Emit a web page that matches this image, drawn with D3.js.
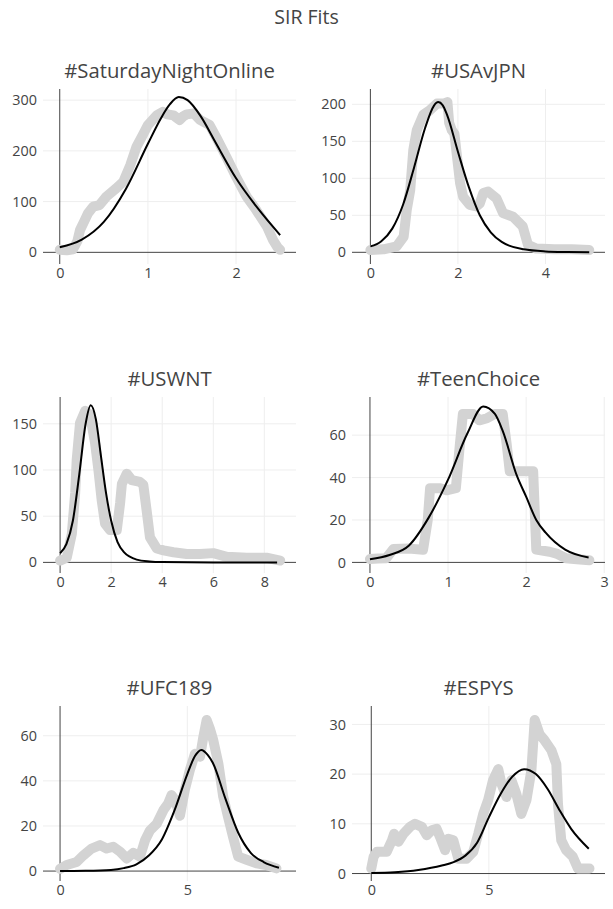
<!DOCTYPE html>
<html><head><meta charset="utf-8">
<script src="https://cdn.jsdelivr.net/npm/d3@7"></script>
<style>
body{margin:0;background:#fff;}
text{font-family:"Open Sans",sans-serif;}
</style>
</head><body>
<svg id="chart" width="613" height="909"></svg>
<script>
// ---------- data ----------
const chartTitle = "SIR Fits";
const panelTitles = ["#SaturdayNightOnline", "#USAvJPN", "#USWNT", "#TeenChoice", "#UFC189", "#ESPYS"];

// #SaturdayNightOnline
const snlObsX = [0, 0.08, 0.15, 0.2, 0.23, 0.28, 0.32, 0.38, 0.45, 0.53, 0.64, 0.72, 0.8, 0.87, 0.95, 1.0, 1.1, 1.17, 1.22, 1.29, 1.36, 1.4, 1.44, 1.52, 1.59, 1.7, 1.78, 1.89, 2.0, 2.12, 2.23, 2.35, 2.42, 2.47, 2.5];
const snlObsY = [5, 4, 6, 22, 44, 62, 77, 90, 93, 110, 126, 139, 172, 208, 234, 251, 270, 277, 272, 270, 261, 268, 272, 274, 261, 251, 225, 188, 149, 110, 83, 51, 24, 10, 5];
const snlFitX = [0, 0.25, 0.5, 0.75, 1.0, 1.15, 1.25, 1.35, 1.45, 1.6, 1.75, 2.0, 2.25, 2.5];
const snlFitY = [10, 25, 60, 125, 214, 265, 292, 306, 300, 268, 222, 146, 86, 34];

// #USAvJPN
const jpnObsX = [0, 0.3, 0.6, 0.76, 0.83, 0.91, 0.98, 1.06, 1.21, 1.36, 1.52, 1.67, 1.76, 1.8, 1.86, 1.92, 1.97, 2.05, 2.12, 2.27, 2.42, 2.5, 2.58, 2.69, 2.88, 3.03, 3.26, 3.48, 3.6, 3.79, 4.2, 4.6, 5.0];
const jpnObsY = [3, 4, 8, 21, 57, 84, 138, 165, 186, 192, 201, 201, 203, 175, 165, 160, 134, 93, 75, 64, 62, 66, 80, 82, 73, 53, 48, 35, 10, 5, 4, 4, 3];
const jpnFitX = [0, 0.25, 0.5, 0.75, 1.0, 1.25, 1.45, 1.55, 1.65, 1.75, 2.0, 2.25, 2.5, 2.75, 3.0, 3.5, 4.0, 4.5, 5.0];
const jpnFitY = [8, 15, 32, 65, 115, 168, 198, 203, 199, 186, 136, 88, 50, 27, 14, 4, 1.2, 0.4, 0.1];

// #USWNT
const wntObsX = [0, 0.26, 0.46, 0.59, 0.65, 0.78, 0.98, 1.17, 1.37, 1.5, 1.63, 1.76, 1.96, 2.22, 2.35, 2.42, 2.61, 2.81, 3.13, 3.26, 3.39, 3.52, 3.79, 4.05, 4.44, 4.96, 5.48, 6.0, 6.53, 7.31, 8.09, 8.62];
const wntObsY = [2, 5, 31, 75, 111, 151, 164, 160, 129, 100, 67, 42, 35, 35, 64, 85, 96, 89, 87, 84, 56, 27, 15, 13, 11, 9, 9, 10, 6, 5, 5, 2];
const wntFitX = [0, 0.25, 0.5, 0.75, 1.0, 1.2, 1.4, 1.6, 1.8, 2.0, 2.25, 2.5, 3.0, 3.5, 4.0, 5.0, 6.0, 7.0, 8.5];
const wntFitY = [10, 20, 45, 95, 150, 170, 155, 115, 75, 45, 22, 11, 3, 1, 0.3, 0.05, 0, 0, 0];

// #TeenChoice
const tcObsX = [0, 0.1, 0.21, 0.3, 0.5, 0.68, 0.74, 0.77, 0.9, 0.98, 1.1, 1.15, 1.19, 1.32, 1.4, 1.5, 1.6, 1.7, 1.75, 1.79, 1.95, 2.09, 2.13, 2.3, 2.4, 2.51, 2.65, 2.81];
const tcObsY = [1.6, 1.8, 2, 6.3, 6.5, 6, 20, 35, 35, 34, 35, 55, 70, 70, 67, 68, 70, 70, 56, 43, 43, 43, 6, 5, 4, 2, 1.5, 1];
const tcFitX = [0, 0.25, 0.5, 0.75, 1.0, 1.25, 1.45, 1.6, 1.7, 1.88, 2.0, 2.13, 2.25, 2.5, 2.8];
const tcFitY = [1.5, 3.5, 8, 21, 39, 61, 73.5, 70, 62, 41, 31, 20, 14, 6, 2.3];

// #UFC189
const ufcObsX = [0, 0.26, 0.65, 0.92, 1.24, 1.57, 1.83, 2.09, 2.36, 2.62, 2.88, 3.14, 3.34, 3.53, 3.8, 4.06, 4.25, 4.38, 4.52, 4.71, 4.9, 5.1, 5.3, 5.5, 5.63, 5.76, 5.89, 6.02, 6.22, 6.41, 6.6, 6.8, 7.0, 7.33, 7.72, 8.1, 8.5];
const ufcObsY = [1, 2.7, 4, 7, 10, 11.5, 10, 10.8, 8.6, 5.6, 8.1, 6.4, 13.7, 18, 21, 27, 30, 33.7, 31.5, 24.5, 35.9, 44.8, 52, 50.7, 59.5, 67, 63, 58, 47.7, 33, 24, 15, 6.4, 5, 3.4, 2.7, 1.2];
const ufcFitX = [0, 1, 2, 2.5, 3.0, 3.5, 4.0, 4.5, 5.0, 5.3, 5.55, 5.8, 6.0, 6.5, 7.0, 7.5, 8.0, 8.6];
const ufcFitY = [0, 0.1, 0.5, 1.3, 3, 7, 14, 27, 43, 51, 53.7, 51.5, 48, 32, 17, 8, 4, 1.5];

// #ESPYS
const espObsX = [0, 0.1, 0.24, 0.66, 0.88, 0.97, 1.16, 1.37, 1.65, 1.86, 2.15, 2.36, 2.57, 2.78, 2.92, 3.14, 3.28, 3.49, 3.7, 4.05, 4.34, 4.55, 4.76, 4.97, 5.18, 5.4, 5.54, 5.75, 5.96, 6.17, 6.38, 6.6, 6.81, 6.95, 7.16, 7.37, 7.66, 7.87, 7.94, 8.08, 8.29, 8.57, 8.79, 9.28];
const espObsY = [1, 3.4, 4.4, 4.4, 6.7, 8, 6.4, 8, 9.4, 10, 9.4, 7.7, 8.7, 9, 7.4, 4.7, 7, 6.7, 3, 3, 4.4, 8, 12, 14.8, 18.8, 21, 18, 15.4, 18.8, 16, 12, 14.8, 20.8, 30.9, 28, 26.8, 24.8, 22, 14, 6.7, 4.7, 3.4, 1, 1];
const espFitX = [0, 1, 2, 3, 3.5, 4, 4.5, 5, 5.5, 6, 6.5, 7, 7.5, 8, 8.5, 9.25];
const espFitY = [0.1, 0.25, 0.7, 1.6, 2.3, 3.6, 6.2, 11.3, 16, 19.5, 21, 20, 17, 12.8, 9, 5];

// tick labels
const xTicks = [[0, 1, 2], [0, 2, 4], [0, 2, 4, 6, 8], [0, 1, 2, 3], [0, 5], [0, 5]];
const yTicks = [[0, 100, 200, 300], [0, 50, 100, 150, 200], [0, 50, 100, 150], [0, 20, 40, 60], [0, 20, 40, 60], [0, 10, 20, 30]];

// axis ranges (data units)
const xRanges = [[-0.19, 2.68], [-0.42, 5.36], [-0.67, 9.24], [-0.23, 3.01], [-0.67, 9.27], [-0.82, 9.94]];
const yRanges = [[-23, 322], [-15.8, 220.7], [-11.5, 179], [-5, 78], [-4.4, 73.2], [-1.5, 33.7]];

// ---------- layout ----------
const colX = [[43, 296], [352, 605]];
const rowY = [[89, 264], [397, 573], [706, 881]];

const obs = [[snlObsX, snlObsY], [jpnObsX, jpnObsY], [wntObsX, wntObsY], [tcObsX, tcObsY], [ufcObsX, ufcObsY], [espObsX, espObsY]];
const fits = [[snlFitX, snlFitY], [jpnFitX, jpnFitY], [wntFitX, wntFitY], [tcFitX, tcFitY], [ufcFitX, ufcFitY], [espFitX, espFitY]];

const svg = d3.select("#chart");
svg.append("rect").attr("width", 613).attr("height", 909).attr("fill", "#fff");

svg.append("text").attr("x", 306.5).attr("y", 24).attr("text-anchor", "middle")
  .attr("font-size", 19.5).attr("fill", "#444").text(chartTitle);

panelTitles.forEach((title, i) => {
  const col = i % 2, row = Math.floor(i / 2);
  const [x0, x1] = colX[col];
  const [y0, y1] = rowY[row];
  const x = d3.scaleLinear().domain(xRanges[i]).range([x0, x1]);
  const y = d3.scaleLinear().domain(yRanges[i]).range([y1, y0]);
  const g = svg.append("g");

  const clipId = "clip" + i;
  svg.append("clipPath").attr("id", clipId).append("rect")
    .attr("x", x0).attr("y", y0).attr("width", x1 - x0).attr("height", y1 - y0);

  // gridlines
  g.append("g").selectAll("line").data(xTicks[i].filter(v => v !== 0)).join("line")
    .attr("x1", d => x(d)).attr("x2", d => x(d)).attr("y1", y0).attr("y2", y1)
    .attr("stroke", "#eee").attr("stroke-width", 1);
  g.append("g").selectAll("line").data(yTicks[i].filter(v => v !== 0)).join("line")
    .attr("y1", d => y(d)).attr("y2", d => y(d)).attr("x1", x0).attr("x2", x1)
    .attr("stroke", "#eee").attr("stroke-width", 1);

  // zero lines
  g.append("line").attr("x1", x(0)).attr("x2", x(0)).attr("y1", y0).attr("y2", y1)
    .attr("stroke", "#444").attr("stroke-width", 1);
  g.append("line").attr("y1", y(0)).attr("y2", y(0)).attr("x1", x0).attr("x2", x1)
    .attr("stroke", "#444").attr("stroke-width", 1);

  // axes tick labels
  const xa = g.append("g").attr("transform", `translate(0,${y1})`)
    .call(d3.axisBottom(x).tickValues(xTicks[i]).tickSize(0).tickPadding(4).tickFormat(d3.format("d")));
  const ya = g.append("g").attr("transform", `translate(${x0},0)`)
    .call(d3.axisLeft(y).tickValues(yTicks[i]).tickSize(0).tickPadding(6).tickFormat(d3.format("d")));
  [xa, ya].forEach(a => {
    a.select(".domain").remove();
    a.selectAll("text").attr("font-family", "Open Sans, sans-serif").attr("font-size", 14.4).attr("fill", "#444");
  });

  const plot = g.append("g").attr("clip-path", `url(#${clipId})`);
  const [ox, oy] = obs[i];
  const obsPts = ox.map((v, k) => [v, oy[k]]);
  plot.append("path").datum(obsPts)
    .attr("d", d3.line().x(d => x(d[0])).y(d => y(d[1])))
    .attr("fill", "none").attr("stroke", "#d3d3d3").attr("stroke-width", 10)
    .attr("stroke-linejoin", "round").attr("stroke-linecap", "round");

  const [fx, fy] = fits[i];
  const fitPts = fx.map((v, k) => [v, fy[k]]);
  plot.append("path").datum(fitPts)
    .attr("d", d3.line().curve(d3.curveMonotoneX).x(d => x(d[0])).y(d => y(d[1])))
    .attr("fill", "none").attr("stroke", "#000").attr("stroke-width", 2);

  svg.append("text").attr("x", (x0 + x1) / 2).attr("y", y0 - 11).attr("text-anchor", "middle")
    .attr("font-size", 20.3).attr("fill", "#444").text(title);
});
</script>
</body></html>
